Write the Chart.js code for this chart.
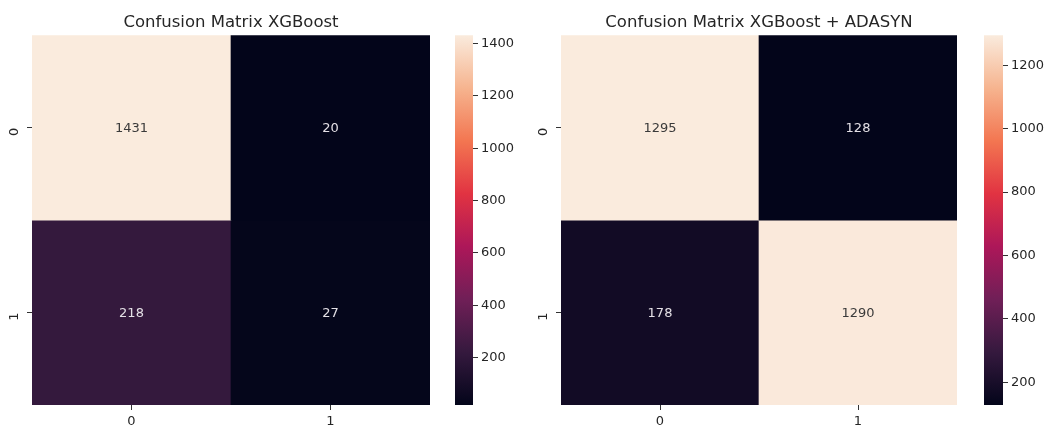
<!DOCTYPE html>
<html>
<head>
<meta charset="utf-8">
<script src="https://cdn.jsdelivr.net/npm/chart.js@4"></script>
<style>
  body { margin: 0; background: #fff; }
  canvas { position: absolute; top: 0; }
</style>
</head>
<body>
<canvas id="hm1" width="462" height="428" style="left:0px"></canvas>
<canvas id="cb1" width="85" height="428" style="left:445px"></canvas>
<canvas id="hm2" width="478" height="428" style="left:520px"></canvas>
<canvas id="cb2" width="73" height="428" style="left:975px"></canvas>
<script>
// Dados das matrizes de confusao

const rowLabels = ['0', '1'];
const colLabels = ['0', '1'];

const matrixXGB = [[1431, 20], [218, 27]];
const matrixADASYN = [[1295, 128], [178, 1290]];

const ticksXGB = [200, 400, 600, 800, 1000, 1200, 1400];
const ticksADASYN = [200, 400, 600, 800, 1000, 1200];

const titleXGB = 'Confusion Matrix XGBoost';
const titleADASYN = 'Confusion Matrix XGBoost + ADASYN';

// Paleta "rocket" do seaborn (aproximada)
const rocket = [
  [0, [3, 5, 26]], [0.143, [53, 25, 62]], [0.286, [112, 31, 87]],
  [0.429, [173, 23, 89]], [0.571, [225, 51, 66]], [0.714, [243, 118, 81]],
  [0.857, [246, 180, 143]], [1, [250, 235, 221]]
];

function cmapRGB(t) {
  t = Math.max(0, Math.min(1, t));
  for (let i = 1; i < rocket.length; i++) {
    if (t <= rocket[i][0]) {
      const [t0, c0] = rocket[i - 1], [t1, c1] = rocket[i];
      const f = (t - t0) / (t1 - t0);
      return c0.map((v, k) => Math.round(v + (c1[k] - v) * f));
    }
  }
  return rocket[rocket.length - 1][1];
}
const cmap = t => 'rgb(' + cmapRGB(t).join(',') + ')';

function textColor(t) {
  const lum = cmapRGB(t).map(v => {
    v /= 255;
    return v <= 0.03928 ? v / 12.92 : Math.pow((v + 0.055) / 1.055, 2.4);
  });
  const l = 0.2126 * lum[0] + 0.7152 * lum[1] + 0.0722 * lum[2];
  return l > 0.408 ? '#3a3a3a' : '#e4e0e6';
}

const font = { family: '"DejaVu Sans"', size: 13 };

// Escreve os valores dentro das celulas
const annotate = {
  id: 'annotate',
  afterDatasetsDraw(chart, args, opts) {
    const ctx = chart.ctx;
    ctx.save();
    ctx.font = '13px "DejaVu Sans"';
    ctx.textAlign = 'center';
    ctx.textBaseline = 'middle';
    opts.matrix.forEach((row, r) => {
      const meta = chart.getDatasetMeta(r);
      row.forEach((v, c) => {
        const p = meta.data[c].getCenterPoint();
        ctx.fillStyle = textColor((v - opts.vmin) / (opts.vmax - opts.vmin));
        ctx.fillText(String(v), p.x, p.y + 1);
      });
    });
    ctx.restore();
  }
};

function heatmap(id, matrix, title, yWidth, rightWidth) {
  const all = matrix.flat();
  const vmin = Math.min(...all), vmax = Math.max(...all);
  new Chart(document.getElementById(id), {
    type: 'bar',
    data: {
      labels: colLabels,
      datasets: matrix.map((row, r) => ({
        data: row.map(() => [r, r + 1]),
        backgroundColor: row.map(v => cmap((v - vmin) / (vmax - vmin))),
        borderWidth: 0,
        barPercentage: 1,
        categoryPercentage: 1,
        grouped: false
      }))
    },
    options: {
      responsive: false,
      animation: false,
      layout: { padding: 0 },
      plugins: {
        legend: { display: false },
        tooltip: { enabled: false },
        title: {
          display: true, text: title, color: '#262626',
          font: { family: '"DejaVu Sans"', size: 16.5, weight: 'normal' },
          padding: { top: 13, bottom: 2.4 }
        },
        annotate: { matrix: matrix, vmin: vmin, vmax: vmax }
      },
      scales: {
        x: {
          grid: { offset: false, drawOnChartArea: false, tickLength: 5, tickColor: '#333' },
          border: { display: false },
          ticks: { font: font, color: '#262626', padding: 4 },
          afterFit: s => { s.width; s.height = 23; }
        },
        y: {
          min: 0, max: rowLabels.length, reverse: true,
          afterBuildTicks: s => { s.ticks = rowLabels.map((l, i) => ({ value: i + 0.5 })); },
          grid: { drawOnChartArea: false, tickLength: 5, tickColor: '#333' },
          border: { display: false },
          ticks: {
            font: font, color: '#262626', padding: 12, minRotation: 90, maxRotation: 90,
            callback: v => rowLabels[Math.floor(v)]
          },
          afterFit: s => { s.width = yWidth; }
        },
        // eixo vazio a direita so para centralizar o titulo sobre a matriz
        yr: {
          position: 'right', display: true,
          grid: { display: false }, border: { display: false }, ticks: { display: false },
          afterFit: s => { s.width = rightWidth; }
        }
      }
    },
    plugins: [annotate]
  });
  return [vmin, vmax];
}

function colorbar(id, vmin, vmax, ticks, padLeft, axisWidth) {
  new Chart(document.getElementById(id), {
    type: 'bar',
    data: {
      labels: [''],
      datasets: [{
        data: [[vmin, vmax]],
        backgroundColor: c => {
          const a = c.chart.chartArea;
          if (!a) return null;
          const g = c.chart.ctx.createLinearGradient(0, a.bottom, 0, a.top);
          rocket.forEach(([t, rgb]) => g.addColorStop(t, 'rgb(' + rgb.join(',') + ')'));
          return g;
        },
        borderWidth: 0,
        barPercentage: 1,
        categoryPercentage: 1
      }]
    },
    options: {
      responsive: false,
      animation: false,
      layout: { padding: { left: padLeft, right: 0, top: 35.2, bottom: 23 } },
      plugins: { legend: { display: false }, tooltip: { enabled: false } },
      scales: {
        x: { display: false },
        y: {
          position: 'right', min: vmin, max: vmax,
          afterBuildTicks: s => { s.ticks = ticks.map(v => ({ value: v })); },
          grid: { drawOnChartArea: false, tickLength: 5, tickColor: '#333' },
          border: { display: false },
          ticks: { font: font, color: '#262626', padding: 3, callback: v => String(v) },
          afterFit: s => { s.width = axisWidth; }
        }
      }
    }
  });
}

const r1 = heatmap('hm1', matrixXGB, titleXGB, 32, 32);
colorbar('cb1', r1[0], r1[1], ticksXGB, 10, 57);

const r2 = heatmap('hm2', matrixADASYN, titleADASYN, 41, 41);
colorbar('cb2', r2[0], r2[1], ticksADASYN, 9, 45);
</script>
</body>
</html>
